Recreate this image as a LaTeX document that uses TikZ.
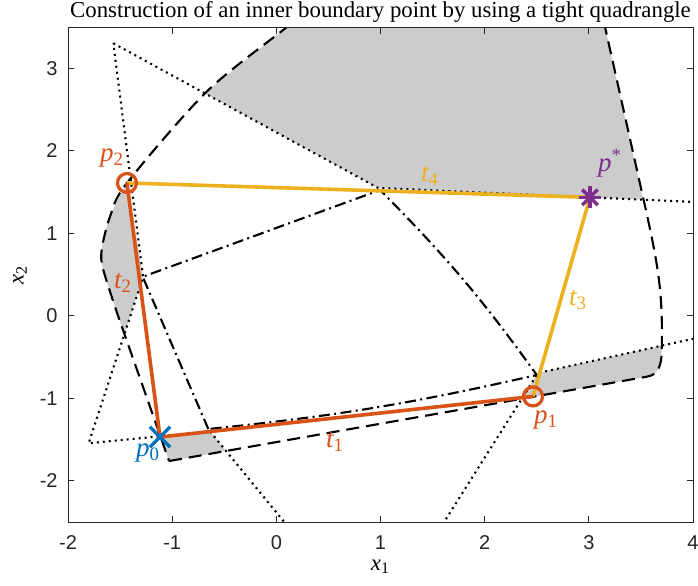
\documentclass[tikz,border=0pt]{standalone}
\usepackage{fontspec}
\setmainfont{Liberation Serif}
\newfontfamily\ticksfont{Liberation Sans}
\usetikzlibrary{positioning, calc, shapes.misc}

\definecolor{mlorange}{rgb}{0.850,0.325,0.098}
\definecolor{mlyellow}{rgb}{0.929,0.694,0.125}
\definecolor{mlblue}{rgb}{0,0.447,0.741}
\definecolor{mlpurple}{rgb}{0.494,0.184,0.556}
\definecolor{axisgray}{gray}{0.15}

\begin{document}
\begin{tikzpicture}[
    x=52.08pt, y=41.25pt,
    % Shaded Regions
    region/.style={fill=black!20, draw=none},
    % Boundary Curve Styles
    dashedcurve/.style={black, line width=1.05pt, dash pattern=on 6.5pt off 3.5pt},
    dottedcurve/.style={black, line width=1.05pt, dash pattern=on 1pt off 2pt},
    dashdotcurve/.style={black, line width=1.05pt, dash pattern=on 5.5pt off 2.2pt on 1pt off 2.2pt},
    % Quadrangle Sides
    side/.style={line width=1.8pt},
    % Markers
    ring/.style={circle, draw=mlorange, line width=1.6pt, minimum size=9.5pt, inner sep=0pt},
    cross/.style={cross out, draw=mlblue, line width=1.7pt, minimum size=8.5pt, inner sep=0pt},
    % Text Styles
    ptlabel/.style={font=\fontsize{13.5}{15}\selectfont\itshape, inner sep=0pt},
    ticklabel/.style={font=\ticksfont\fontsize{10}{12}\selectfont, text=axisgray, inner sep=0pt},
    axisline/.style={draw=axisgray, line width=0.5pt}
]
    \path[use as bounding box, fill=white] (-2.653,-3.261) rectangle (4.048,3.830);

    % =========================================================================
    % Points of the Quadrangle
    % =========================================================================
    \coordinate (p0) at (-1.117,-1.467);
    \coordinate (p1) at (2.464,-0.975);
    \coordinate (p2) at (-1.434,1.612);
    \coordinate (pstar) at (3.011,1.438);

    % dotted star corners
    \coordinate (T1) at (-1.565,3.305);
    \coordinate (C1) at (-0.636,-1.400);
    \coordinate (C2) at (-1.279,0.473);
    \coordinate (C3) at (0.977,1.552);
    \coordinate (C4) at (2.512,-0.691);
    \coordinate (LT) at (-1.802,-1.542);

    % dash-dot quadrangle corners
    \coordinate (D1) at (-0.653,-1.370);
    \coordinate (D2) at (-1.283,0.475);
    \coordinate (D3) at (0.996,1.527);
    \coordinate (D4) at (2.500,-0.715);

    % dashed curve corner
    \coordinate (A) at (-1.030,-1.758);
    \coordinate (B) at (3.556,-0.736);

    \begin{scope}
        \clip (-2,-2.5) rectangle (4,3.5);

        % =====================================================================
        % Shaded Regions
        % =====================================================================
        \fill[region] (-0.688,2.700) -- (0.102,3.503) -- (0.30,3.7) -- (3.12,3.7)
            -- (3.155,3.503) -- (3.52,1.41) -- (C3) -- cycle;
        \fill[region] plot[smooth] coordinates {(-1.434,1.612) (-1.597,1.204)
            (-1.677,0.80) (-1.661,0.558) (-1.517,-0.008)}
            -- (-1.459,-0.218) -- (C2) -- cycle;
        \fill[region] (-1.111,-1.466) -- (C1) -- (-0.483,-1.636) -- (A) -- cycle;
        \fill[region] (C4) -- (3.69,-0.362) -- (3.70,-0.40)
            .. controls (3.70,-0.62) and (3.66,-0.713) .. (B) -- (2.356,-1.003) -- cycle;

        % =====================================================================
        % Boundary Curves
        % =====================================================================
        \draw[dottedcurve] (T1) -- (C3) -- (5.03,1.325) -- (5.03,0.011) -- (C4)
            -- (1.139,-3.442) -- (0.689,-3.442) -- (C1) -- (LT) -- (C2) -- cycle;

        \draw[dashdotcurve] (D1) -- (D2) -- (D3) to[bend left=4.5] (D4)
            to[bend left=3.5] (D1);

        \draw[dashedcurve] (A) -- (B) .. controls (3.66,-0.713) and (3.70,-0.62) .. (3.70,-0.40)
            .. controls (3.71,0.30) and (3.67,0.60) .. (3.52,1.44) -- (3.085,3.9)
            -- plot[smooth] coordinates {(0.49,3.9) (0.102,3.503) (-0.669,2.719)
            (-1.434,1.612) (-1.597,1.204) (-1.677,0.80) (-1.661,0.558) (-1.517,-0.008)}
            -- cycle;
    \end{scope}

    % =========================================================================
    % Sides of the Tight Quadrangle
    % =========================================================================
    \draw[side, mlyellow] (p2) -- (pstar);
    \draw[side, mlyellow] (p1) -- (pstar);
    \draw[side, mlorange] (p0) -- (p1);
    \draw[side, mlorange] (p0) -- (p2);

    % =========================================================================
    % Markers
    % =========================================================================
    \node[cross] (m0) at (p0) {};
    \node[ring] (m1) at (p1) {};
    \node[ring] (m2) at (p2) {};
    \node[circle, inner sep=0pt, minimum size=0pt] (ms) at (pstar) {};
    \foreach \a in {0,45,90,135}
        \draw[mlpurple, line width=1.7pt] (ms) +(\a:5.5pt) -- +(\a+180:5.5pt);

    % =========================================================================
    % Labels
    % =========================================================================
    \node[ptlabel, text=mlblue] (lp0) at (-1.232,-1.661) {p\textsubscript{\upshape 0}};
    \node[ptlabel, text=mlorange] (lp1) at (2.589,-1.261) {p\textsubscript{\upshape 1}};
    \node[ptlabel, text=mlorange] (lp2) at (-1.576,1.915) {p\textsubscript{\upshape 2}};
    \node[ptlabel, text=mlpurple] (lps) at (3.203,1.855) {p\textsuperscript{\upshape *}};
    \node[ptlabel, text=mlorange] (lt1) at (0.564,-1.527) {t\textsubscript{\upshape 1}};
    \node[ptlabel, text=mlorange] (lt2) at (-1.471,0.400) {t\textsubscript{\upshape 2}};
    \node[ptlabel, text=mlyellow] (lt3) at (2.896,0.194) {t\textsubscript{\upshape 3}};
    \node[ptlabel, text=mlyellow] (lt4) at (1.475,1.697) {t\textsubscript{\upshape 4}};

    % =========================================================================
    % Axes
    % =========================================================================
    \draw[axisline] (-2,-2.5) rectangle (4,3.5);
    \foreach \xv in {-2,...,4} {
        \draw[axisline] (\xv,-2.5) -- ++(0,3.2pt);
        \draw[axisline] (\xv,3.5) -- ++(0,-3.2pt);
        \node[ticklabel, anchor=north] (xt\xv) at ($(\xv,-2.5)+(0,-6.5pt)$) {\xv};
    }
    \foreach \yv in {-2,...,3} {
        \draw[axisline] (-2,\yv) -- ++(3.2pt,0);
        \draw[axisline] (4,\yv) -- ++(-3.2pt,0);
        \node[ticklabel, anchor=east] (yt\yv) at ($(-2,\yv)+(-5pt,0)$) {\yv};
    }

    \node[font=\fontsize{11.4}{13}\selectfont, inner sep=0pt] (title) at (1,3.685)
        {Construction of an inner boundary point by using a tight quadrangle};
    \node[font=\fontsize{11.4}{13}\selectfont\itshape, inner sep=0pt] (xlab) at (1,-3.042)
        {x\textsubscript{\upshape 1}};
    \node[font=\fontsize{11.4}{13}\selectfont\itshape, inner sep=0pt, rotate=90] (ylab)
        at (-2.46,0.5) {x\textsubscript{\upshape 2}};

\end{tikzpicture}
\end{document}
